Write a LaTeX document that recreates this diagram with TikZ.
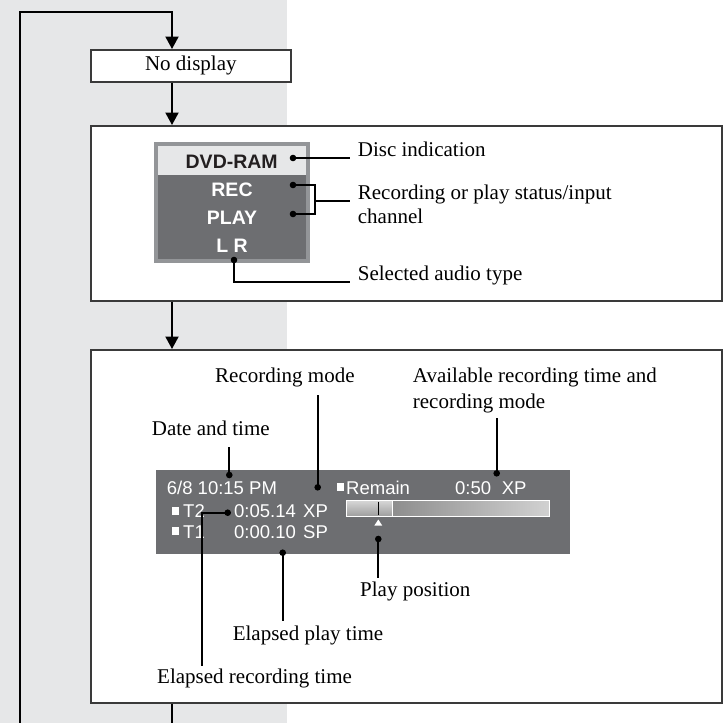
\documentclass[tikz,border=0pt]{standalone}
\usepackage{fontspec}
\setmainfont{Liberation Serif}
\newfontfamily\osdfont{Liberation Sans}
\usetikzlibrary{arrows.meta}
\definecolor{bggray}{HTML}{E6E7E8}
\definecolor{paneldark}{HTML}{6D6E71}
\definecolor{panelborder}{HTML}{939598}
\definecolor{panellight}{HTML}{E6E7E8}
\definecolor{dvdtext}{HTML}{231F20}
\definecolor{frameline}{HTML}{3A3A3A}
\tikzset{
  lbl/.style={font=\fontsize{21}{24}\selectfont, inner sep=0pt, anchor=base west},
  osdb/.style={font=\osdfont\bfseries\fontsize{19.5}{22}\selectfont, inner sep=0pt, anchor=center},
  osdt/.style={font=\osdfont\fontsize{18.5}{20}\selectfont, text=white, inner sep=0pt, anchor=base west},
  conn/.style={line width=1.8pt, black},
  flowarrow/.style={line width=2pt, black, -{Triangle[length=12.5pt,width=13pt]}},
  frame/.style={draw=frameline, line width=1.6pt, fill=white, inner sep=0pt},
  dotr/.style={fill=black}
}
\begin{document}
\begin{tikzpicture}[x=1pt,y=-1pt]
\useasboundingbox (0,0) rectangle (726,723);
\fill[bggray] (0,0) rectangle (287,723);

% frames
\node[frame, anchor=north west, minimum width=200pt, minimum height=32pt, font=\fontsize{21}{24}\selectfont] (nodisp) at (90,49) {No display};
\node[frame, anchor=north west, minimum width=631pt, minimum height=175pt] (box2) at (90,125) {};
\node[frame, anchor=north west, minimum width=631pt, minimum height=353pt] (box3) at (90,349) {};

% flow
\coordinate (arrowx) at (172,0);
\coordinate (looptop) at (20,12);
\coordinate (loopbot) at (20,723);
\coordinate (exitb) at (172,723);
\draw[flowarrow] (loopbot) -- (looptop) -- (looptop -| arrowx) -- (nodisp.north -| arrowx);
\draw[flowarrow] (nodisp.south -| arrowx) -- (box2.north -| arrowx);
\draw[flowarrow] (box2.south -| arrowx) -- (box3.north -| arrowx);
\draw[line width=2pt] (box3.south -| arrowx) -- (exitb);

% ---- panel 1
\fill[panelborder] (154.3,142.3) rectangle (310,262.7);
\fill[panellight] (158.3,146.3) rectangle (306,175);
\fill[paneldark] (158.3,175) rectangle (306,258.7);
\node[osdb, text=dvdtext] (dvd) at (231.7,161.3) {DVD-RAM};
\node[osdb, text=white] (rec) at (232,190) {REC};
\node[osdb, text=white] (play) at (232,218) {PLAY};
\node[osdb, text=white] (lr) at (232,246) {L R};

\coordinate (dvddot) at (293,158);
\coordinate (recdot) at (293,185);
\coordinate (playdot) at (293,214);
\coordinate (lrdot) at (234,260);
\coordinate (discend) at (350,158);
\coordinate (brx) at (315,200.7);
\coordinate (recend) at (350,200.7);
\coordinate (lrcorner) at (234,282.3);
\coordinate (lrend) at (350,282.3);

\draw[conn] (dvddot) -- (discend);
\draw[conn] (recdot) -- (recdot -| brx) -- (playdot -| brx) -- (playdot);
\draw[conn] (brx) -- (recend);
\draw[conn] (lrdot) -- (lrcorner) -- (lrend);
\foreach \p in {dvddot,recdot,playdot,lrdot} \fill (\p) circle (3.3);

\node[lbl] (disc) at (357.7,156.5) {Disc indication};
\node[lbl] (recplay) at (357.7,199.5) {Recording or play status/input};
\node[lbl] (chan) at (357.7,223.5) {channel};
\node[lbl] (audio) at (357.7,280.5) {Selected audio type};

% ---- panel 2
\fill[paneldark] (156,470) rectangle (570,554);
\node[osdt] (date) at (166.7,494.3) {6/8 10:15 PM};
\fill[white] (336.7,482.7) rectangle (344.2,490.7);
\node[osdt] (remain) at (346,494.3) {Remain};
\node[osdt] (rtime) at (455,494.3) {0:50};
\node[osdt] (rmode) at (501.7,494.3) {XP};
\fill[white] (171.7,507) rectangle (179,515);
\node[osdt] (t2) at (183,517.8) {T2};
\node[osdt] (t2time) at (234,517.8) {0:05.14};
\node[osdt] (t2mode) at (303,517.8) {XP};
\fill[white] (171.7,526.7) rectangle (179,534.7);
\node[osdt] (t1) at (183,538.3) {T1};
\node[osdt] (t1time) at (234,538.3) {0:00.10};
\node[osdt] (t1mode) at (303,538.3) {SP};

% progress bar
\shade[left color=black!52, right color=black!18] (346.7,500) rectangle (549.3,516);
\draw[white, line width=0.9pt] (346.7,500) rectangle (549.3,516);
\shade[top color=black!15, bottom color=black!38] (346.7,500) rectangle (392.3,516);
\draw[white, line width=0.9pt] (346.7,500) rectangle (392.3,516);
\draw[black, line width=0.9pt] (378.3,501.5) -- (378.3,514.5);
\fill[white] (378.3,519.5) -- (382.2,525.5) -- (374.4,525.5) -- cycle;

% labels panel 2
\node[lbl] (recmodel) at (215,382) {Recording mode};
\node[lbl] (avail1) at (412.7,382) {Available recording time and};
\node[lbl] (avail2) at (412.7,408.5) {recording mode};
\node[lbl] (datetime) at (151.7,435) {Date and time};
\node[lbl] (playpos) at (360,596) {Play position};
\node[lbl] (elplay) at (232.6,640) {Elapsed play time};
\node[lbl] (elrec) at (157,683) {Elapsed recording time};

\coordinate (datedot) at (229.3,475);
\coordinate (dateend) at (229.3,447);
\coordinate (rmdot) at (317.7,487.3);
\coordinate (rmend) at (317.7,395);
\coordinate (avdot) at (496.7,473.3);
\coordinate (avend) at (496.7,418);
\coordinate (t2dot) at (227.7,512.7);
\coordinate (t2corner) at (201.7,512.7);
\coordinate (t2end) at (201.7,666);
\coordinate (epdot) at (282.7,552.7);
\coordinate (epend) at (282.7,621);
\coordinate (ppdot) at (378.3,539);
\coordinate (ppend) at (378.3,578);

\draw[conn] (datedot) -- (dateend);
\draw[conn] (rmdot) -- (rmend);
\draw[conn] (avdot) -- (avend);
\draw[conn] (t2dot) -- (t2corner) -- (t2end);
\draw[conn] (epdot) -- (epend);
\draw[conn] (ppdot) -- (ppend);
\foreach \p in {datedot,rmdot,avdot,t2dot,epdot,ppdot} \fill (\p) circle (3.3);
\end{tikzpicture}
\end{document}
